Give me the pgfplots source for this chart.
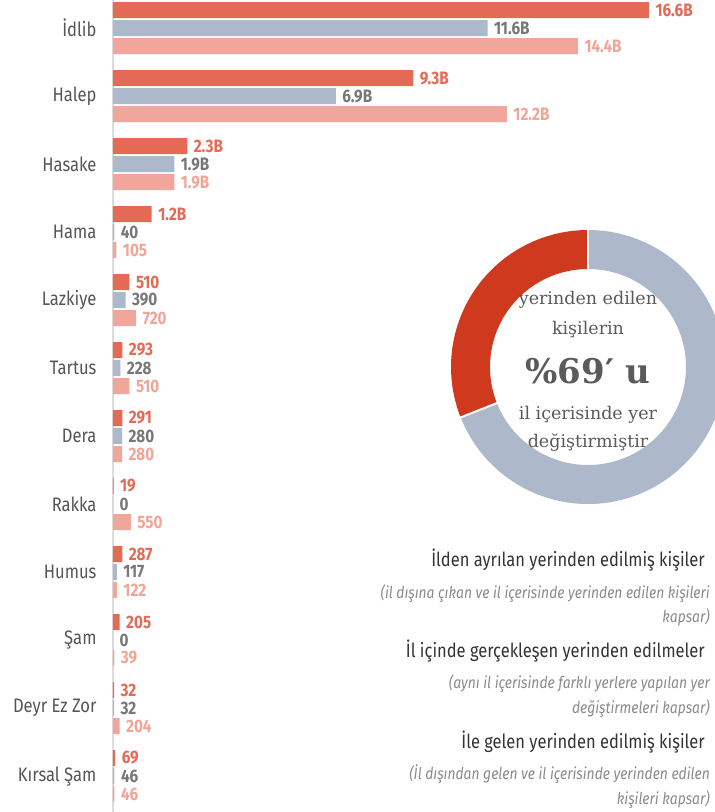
\documentclass[border=0pt]{standalone}
\usepackage{pgfplots}
\pgfplotsset{compat=1.18}
\usepackage{fontspec}
\setmainfont{Fira Sans}[FakeStretch=0.85]
\newfontfamily\slab{DejaVu Serif}
\definecolor{barred}{HTML}{E46A56}
\definecolor{bargray}{HTML}{ADB8CA}
\definecolor{barlight}{HTML}{F0A69A}
\definecolor{labred}{HTML}{E46A56}
\definecolor{labgray}{HTML}{777777}
\definecolor{lablight}{HTML}{F2A597}
\definecolor{donutred}{HTML}{CF3A1F}
\definecolor{donutgray}{HTML}{ADB8CA}
\definecolor{cattext}{HTML}{555555}
\definecolor{headtext}{HTML}{333333}
\definecolor{ittext}{HTML}{8A8A8A}
\definecolor{donuttext}{HTML}{5A5A5A}
\definecolor{axisline}{HTML}{DDDDDD}
\begin{document}
\begin{tikzpicture}
\useasboundingbox (0,0) rectangle (715pt,-812pt);
% donut
\begin{scope}
\clip (0,0) rectangle (715pt,-812pt);
\begin{scope}[shift={(588pt,-367pt)}]
\pgfmathsetmacro\ang{90-3.6*69}
\fill[donutgray] (90:137pt) arc[start angle=90,end angle=\ang,radius=137pt] -- (\ang:98pt) arc[start angle=\ang,end angle=90,radius=98pt] -- cycle;
\fill[donutred] (90:137pt) arc[start angle=90,end angle=\ang+360,radius=137pt] -- (\ang+360:98pt) arc[start angle=\ang+360,end angle=90,radius=98pt] -- cycle;
\draw[white,line width=2pt] (90:96pt) -- (90:139pt);
\draw[white,line width=2pt] (\ang:96pt) -- (\ang:139pt);
\end{scope}
\end{scope}
\begin{scope}[every node/.style={inner sep=0pt,text=donuttext}]
\node[anchor=base] at (588pt,-304pt) {\slab\fontsize{17.5}{20}\selectfont yerinden edilen};
\node[anchor=base] at (588pt,-334pt) {\slab\fontsize{17.5}{20}\selectfont kişilerin};
\node[anchor=base] at (588pt,-383pt) {\slab\bfseries\fontsize{34}{40}\selectfont \%69′ u};
\node[anchor=base] at (588pt,-419pt) {\slab\fontsize{17.5}{20}\selectfont il içerisinde yer};
\node[anchor=base] at (588pt,-447pt) {\slab\fontsize{17.5}{20}\selectfont değiştirmiştir};
\end{scope}
% legend texts
\begin{scope}[every node/.style={inner sep=0pt,anchor=base east}]
\node[text=headtext] at (705pt,-566pt) {\fontsize{19.4}{22}\selectfont İlden ayrılan yerinden edilmiş kişiler};
\node[text=ittext] at (710pt,-598pt) {\itshape\fontsize{16.3}{18}\selectfont (il dışına çıkan ve il içerisinde yerinden edilen kişileri};
\node[text=ittext] at (710pt,-622pt) {\itshape\fontsize{16.3}{18}\selectfont kapsar)};
\node[text=headtext] at (705pt,-657pt) {\fontsize{19.4}{22}\selectfont İl içinde gerçekleşen yerinden edilmeler};
\node[text=ittext] at (710pt,-688pt) {\itshape\fontsize{16.3}{18}\selectfont (aynı il içerisinde farklı yerlere yapılan yer};
\node[text=ittext] at (710pt,-713pt) {\itshape\fontsize{16.3}{18}\selectfont değiştirmeleri kapsar)};
\node[text=headtext] at (705pt,-748pt) {\fontsize{19.4}{22}\selectfont İle gelen yerinden edilmiş kişiler};
\node[text=ittext] at (710pt,-779pt) {\itshape\fontsize{16.3}{18}\selectfont (İl dışından gelen ve il içerisinde yerinden edilen};
\node[text=ittext] at (710pt,-804pt) {\itshape\fontsize{16.3}{18}\selectfont kişileri kapsar)};
\end{scope}
\begin{axis}[
  at={(113pt,-812pt)}, anchor=south west,
  width=602pt, height=812pt, scale only axis,
  xmin=0, xmax=18644, ymin=-0.529, ymax=11.412,
  enlargelimits=false, clip=false,
  xbar, bar width=16pt,
  axis x line=none, axis y line*=left,
  y axis line style={draw=axisline,line width=2pt},
  ytick={0,...,11},
  yticklabels={Kırsal Şam,Deyr Ez Zor,Şam,Humus,Rakka,Dera,Tartus,Lazkiye,Hama,Hasake,Halep,İdlib},
  major tick length=0pt,
  yticklabel style={font=\fontsize{19.5}{22}\selectfont, text=cattext, xshift=-13pt},
  xtick=\empty,
  point meta=explicit symbolic,
  nodes near coords,
  every node near coord/.append style={font=\bfseries\fontsize{18}{20}\selectfont, anchor=west, xshift=3pt},
]
\addplot[fill=barred, draw=none, bar shift=18pt, every node near coord/.append style={text=labred}] coordinates {
(16600,11) [16.6B] (9300,10) [9.3B] (2300,9) [2.3B] (1200,8) [1.2B] (510,7) [510] (293,6) [293]
(291,5) [291] (19,4) [19] (287,3) [287] (205,2) [205] (32,1) [32] (69,0) [69]};
\addplot[fill=bargray, draw=none, bar shift=0pt, every node near coord/.append style={text=labgray}] coordinates {
(11600,11) [11.6B] (6900,10) [6.9B] (1900,9) [1.9B] (40,8) [40] (390,7) [390] (228,6) [228]
(280,5) [280] (0,4) [0] (117,3) [117] (0,2) [0] (32,1) [32] (46,0) [46]};
\addplot[fill=barlight, draw=none, bar shift=-18pt, every node near coord/.append style={text=lablight}] coordinates {
(14400,11) [14.4B] (12200,10) [12.2B] (1900,9) [1.9B] (105,8) [105] (720,7) [720] (510,6) [510]
(280,5) [280] (550,4) [550] (122,3) [122] (39,2) [39] (204,1) [204] (46,0) [46]};
\end{axis}
\end{tikzpicture}
\end{document}
